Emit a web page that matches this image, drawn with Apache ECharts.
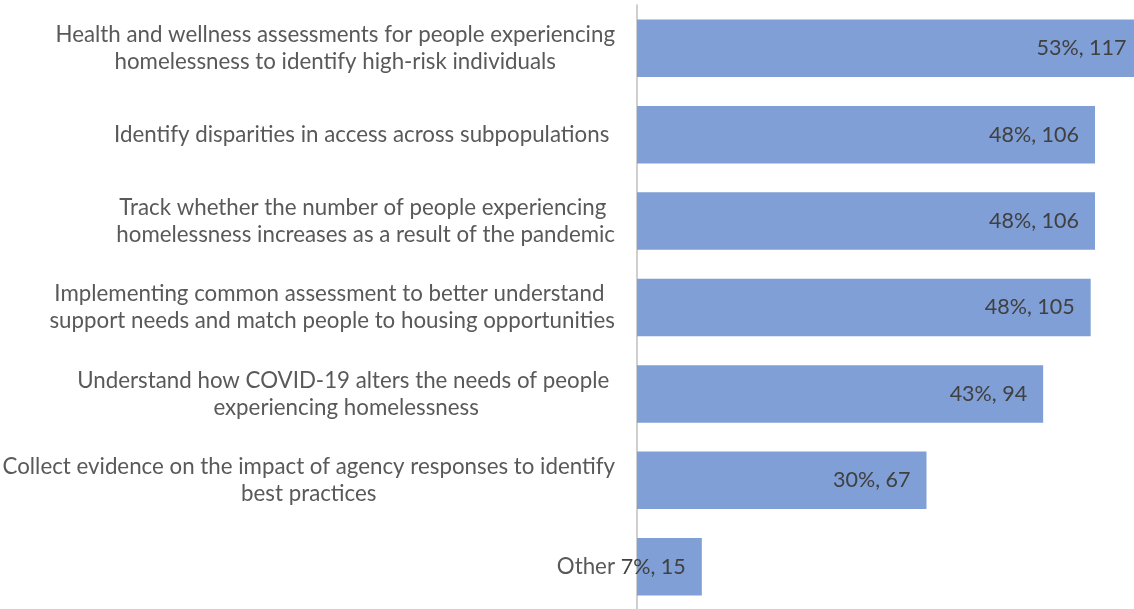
<!DOCTYPE html>
<html>
<head>
<meta charset="utf-8">
<script src="https://cdn.jsdelivr.net/npm/echarts@6/dist/echarts.min.js"></script>
<style>html,body{margin:0;padding:0;background:#fff;}#c{width:1134px;height:609px;}</style>
</head>
<body>
<div id="c"></div>
<script>
const categories = [
  "Health and wellness assessments for people experiencing\nhomelessness to identify high-risk individuals",
  "Identify disparities in access across subpopulations ",
  "Track whether the number of people experiencing \nhomelessness increases as a result of the pandemic",
  "Implementing common assessment to better understand \nsupport needs and match people to housing opportunities",
  "Understand how COVID-19 alters the needs of people \nexperiencing homelessness",
  "Collect evidence on the impact of agency responses to identify\nbest practices",
  "Other"
];
const counts = [117, 106, 106, 105, 94, 67, 15];
const percents = [53, 48, 48, 48, 43, 30, 7];

const FONT = 'Lato';
const chart = echarts.init(document.getElementById('c'), null, {renderer: 'canvas'});
const pxPerUnit = (1095 - 637) / 106;
chart.setOption({
  animation: false,
  grid: { left: 637, top: 5, right: 0, bottom: -1, containLabel: false, outerBoundsMode: 'none' },
  xAxis: {
    type: 'value', min: 0, max: (1134 - 637) / pxPerUnit,
    show: false
  },
  yAxis: {
    type: 'category', inverse: true, data: categories,
    axisLine: { show: true, lineStyle: { color: '#BFBFBF', width: 1.5 } },
    axisTick: { show: false },
    splitLine: { show: false },
    axisLabel: {
      margin: 22,
      align: 'right',
      formatter: function (v) {
        return v.split('\n').map(s => '{c|' + s + '}').join('\n');
      },
      rich: { c: { align: 'center', fontFamily: FONT, fontSize: 22.3, lineHeight: 27, color: '#595959' } }
    }
  },
  series: [{
    type: 'bar',
    data: counts,
    clip: false,
    barCategoryGap: '33.5%',
    itemStyle: { color: '#7F9FD6' },
    label: {
      show: true, position: 'insideRight', distance: 16,
      fontFamily: FONT, fontSize: 21.5, color: '#404040',
      formatter: p => percents[p.dataIndex] + '%, ' + counts[p.dataIndex]
    }
  }]
});
</script>
</body>
</html>
